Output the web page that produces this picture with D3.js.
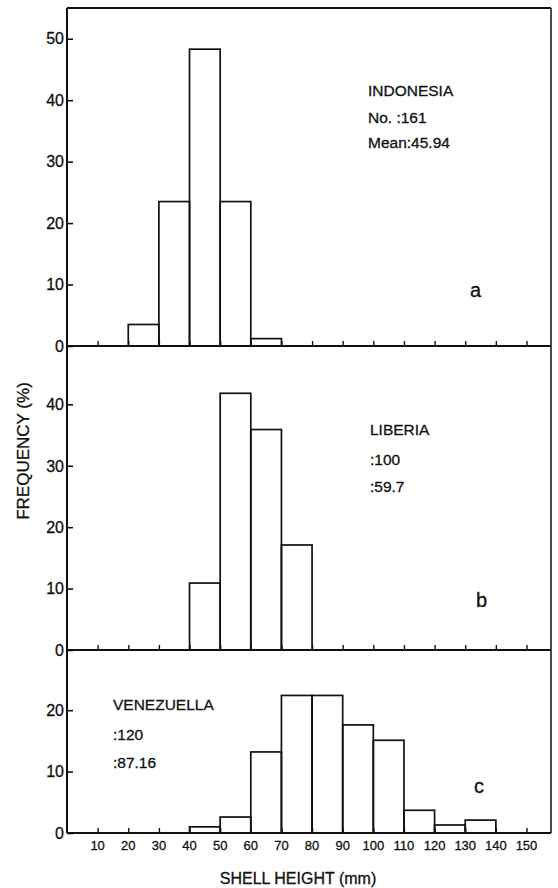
<!DOCTYPE html>
<html>
<head>
<meta charset="utf-8">
<script src="https://cdn.jsdelivr.net/npm/d3@7/dist/d3.min.js"></script>
<style>
  html, body { margin: 0; padding: 0; background: #fff; }
  svg { display: block; }
  text { font-family: "Liberation Sans", Arial, sans-serif; fill: #111; stroke: #111; stroke-width: 0.3; }
</style>
</head>
<body>
<script>
// ---- data ----
const binLower = [0, 10, 20, 30, 40, 50, 60, 70, 80, 90, 100, 110, 120, 130, 140];
const indonesiaFreq = [0, 0, 3.5, 23.5, 48.3, 23.5, 1.2, 0, 0, 0, 0, 0, 0, 0, 0];
const liberiaFreq   = [0, 0, 0, 0, 10.9, 41.8, 35.9, 17.1, 0, 0, 0, 0, 0, 0, 0];
const venezuelaFreq = [0, 0, 0, 0, 1.0, 2.6, 13.2, 22.4, 22.4, 17.6, 15.1, 3.7, 1.3, 2.1, 0];
const xTickValues = [10, 20, 30, 40, 50, 60, 70, 80, 90, 100, 110, 120, 130, 140, 150];
const yTicksA = [0, 10, 20, 30, 40, 50];
const yTicksB = [0, 10, 20, 30, 40];
const yTicksC = [0, 10, 20];
const panelNames = ["INDONESIA", "LIBERIA", "VENEZUELLA"];
const panelCounts = ["No. :161", ":100", ":120"];
const panelMeans = ["Mean:45.94", ":59.7", ":87.16"];
const panelLetters = ["a", "b", "c"];

// ---- layout ----
const W = 558, H = 888;
const left = 67, right = 551;
const svg = d3.select("body").append("svg").attr("width", W).attr("height", H);

const x = d3.scaleLinear().domain([0, 158]).range([left, right]);

const panels = [
  { freq: indonesiaFreq, ticks: yTicksA, yMax: 55,   top: 8,   zero: 346,
    textX: 368, textY: [96, 123, 148], letterX: 470, letterY: 297 },
  { freq: liberiaFreq,   ticks: yTicksB, yMax: 49.5, top: 346, zero: 650,
    textX: 370, textY: [435, 465, 492], letterX: 476, letterY: 607 },
  { freq: venezuelaFreq, ticks: yTicksC, yMax: 29.8, top: 650, zero: 833,
    textX: 113, textY: [710, 740, 768], letterX: 474, letterY: 793 }
];

panels.forEach((p, i) => {
  const y = d3.scaleLinear().domain([0, p.yMax]).range([p.zero, p.top]);
  const g = svg.append("g");

  // bars
  const bins = binLower.map((b, j) => ({ x0: b, x1: b + 10, v: p.freq[j] })).filter(d => d.v > 0);
  g.selectAll("rect.bar").data(bins).join("rect")
    .attr("class", "bar")
    .attr("x", d => x(d.x0))
    .attr("width", d => x(d.x1) - x(d.x0))
    .attr("y", d => y(d.v))
    .attr("height", d => y(0) - y(d.v))
    .attr("fill", "none")
    .attr("stroke", "#111")
    .attr("stroke-width", 1.7);

  // y axis (ticks pointing inward)
  const yAxis = d3.axisRight(y).tickValues(p.ticks).tickSize(6).tickFormat("");
  const ya = g.append("g").attr("transform", `translate(${left},0)`).call(yAxis);
  ya.select(".domain").remove();
  ya.selectAll("line").attr("stroke", "#111").attr("stroke-width", 1.6);
  g.selectAll("text.ylab").data(p.ticks).join("text")
    .attr("class", "ylab")
    .attr("x", left - 3)
    .attr("y", d => y(d))
    .attr("dy", "0.36em")
    .attr("text-anchor", "end")
    .attr("font-size", 16)
    .text(d => d);

  // x axis ticks (pointing up) on baseline
  const xAxis = d3.axisTop(x).tickValues(xTickValues).tickSize(5).tickFormat("");
  const xa = g.append("g").attr("transform", `translate(0,${p.zero})`).call(xAxis);
  xa.select(".domain").remove();
  xa.selectAll("line").attr("stroke", "#111").attr("stroke-width", 1.4);

  // baseline
  g.append("line").attr("x1", left).attr("x2", right).attr("y1", p.zero).attr("y2", p.zero)
    .attr("stroke", "#111").attr("stroke-width", 2);

  // annotations
  const lines = [panelNames[i], panelCounts[i], panelMeans[i]];
  g.selectAll("text.ann").data(lines).join("text")
    .attr("class", "ann")
    .attr("x", p.textX)
    .attr("y", (d, k) => p.textY[k])
    .attr("font-size", 15.5)
    .text(d => d);
  g.append("text")
    .attr("x", p.letterX).attr("y", p.letterY)
    .attr("font-size", 20)
    .text(panelLetters[i]);
});

// frame: left axis, top and right border
svg.append("line").attr("x1", left).attr("x2", left).attr("y1", 8).attr("y2", 833)
  .attr("stroke", "#111").attr("stroke-width", 2);
svg.append("line").attr("x1", left).attr("x2", right).attr("y1", 8).attr("y2", 8)
  .attr("stroke", "#111").attr("stroke-width", 2);
svg.append("line").attr("x1", right).attr("x2", right).attr("y1", 8).attr("y2", 833)
  .attr("stroke", "#111").attr("stroke-width", 1.5);

// x tick labels at bottom
svg.selectAll("text.xlab").data(xTickValues).join("text")
  .attr("class", "xlab")
  .attr("x", d => x(d))
  .attr("y", 850)
  .attr("text-anchor", "middle")
  .attr("font-size", 13)
  .text(d => d);

// axis titles
svg.append("text")
  .attr("x", 298).attr("y", 884)
  .attr("text-anchor", "middle")
  .attr("font-size", 16)
  .text("SHELL HEIGHT (mm)");
svg.append("text")
  .attr("transform", "translate(29,451) rotate(-90)")
  .attr("text-anchor", "middle")
  .attr("font-size", 17)
  .text("FREQUENCY (%)");
</script>
</body>
</html>
